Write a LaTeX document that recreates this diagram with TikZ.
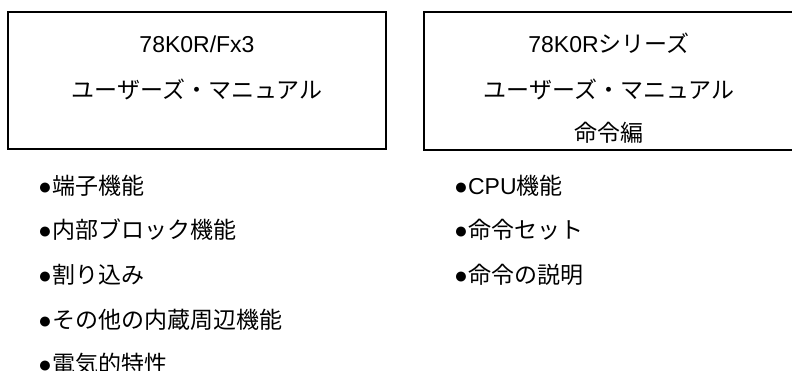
\documentclass[tikz,border=0pt]{standalone}
\usepackage{fontspec}
\setmainfont{Liberation Sans}
\newfontfamily\jpfont{Noto Sans CJK JP}
\tikzset{
  manualbox/.style={draw, line width=2pt, inner sep=0pt},
  boxline/.style={anchor=base, inner sep=0pt},
  item/.style={anchor=base west, inner sep=0pt}
}
\begin{document}
\begin{tikzpicture}[x=1pt,y=-1pt,font=\fontsize{23}{28}\selectfont]
    \useasboundingbox (0,0) rectangle (792,371);
    \clip (0,0) rectangle (792,371);
    \node[manualbox, minimum width=378pt, minimum height=137pt] (fx3box) at (197,81) {};
    \node[manualbox, minimum width=370pt, minimum height=138pt] (setbox) at (609,81) {};
    \node[boxline] (fx3name) at (197,53) {78K0R/Fx3};
    \node[boxline] (fx3title) at (197,99) {\jpfont ユーザーズ・マニュアル};
    \node[boxline] (setname) at (609,53) {78K0R\jpfont シリーズ};
    \node[boxline] (settitle) at (609,99) {\jpfont ユーザーズ・マニュアル};
    \node[boxline] (setpart) at (609,142) {\jpfont 命令編};
    \foreach \txt [count=\i] in {端子機能, 内部ブロック機能, 割り込み, その他の内蔵周辺機能, 電気的特性}{
        \node[item] (fx3item\i) at (38,{150+44.5*\i}) {●\jpfont\txt}; % hardware manual
    }
    \foreach \lat/\txt [count=\i] in {CPU/機能, /命令セット, /命令の説明}{
        \node[item] (setitem\i) at (454,{150+44.5*\i}) {●\lat\jpfont\txt}; % instruction manual
    }
\end{tikzpicture}
\end{document}
